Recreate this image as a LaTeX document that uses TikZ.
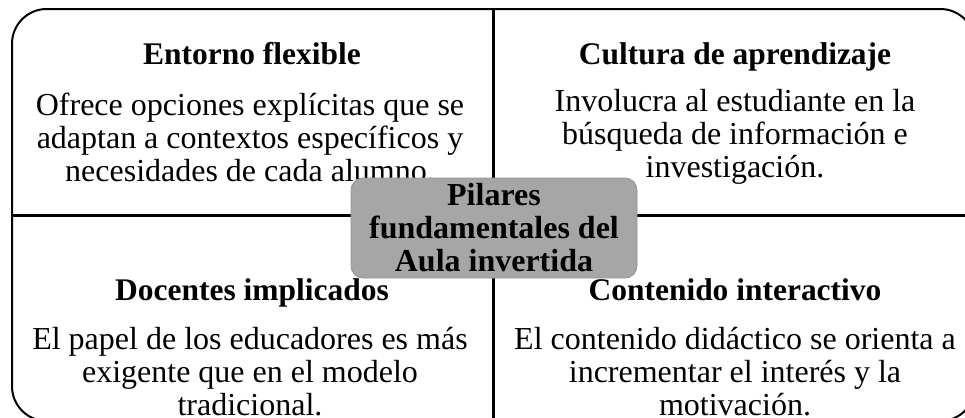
\documentclass[tikz,border=0pt]{standalone}
\usepackage{fontspec}
\setmainfont{Liberation Serif}
\begin{document}
\begin{tikzpicture}[x=0.75pt,y=-0.75pt,
  title/.style={font=\fontsize{23.6}{24.75}\selectfont\bfseries, inner sep=0pt, anchor=base},
  body/.style={font=\fontsize{24}{24.75}\selectfont, align=center, inner sep=0pt, anchor=center},
  divider/.style={line width=2.25pt, black},
  centerbox/.style={fill=boxgray, draw=boxgray!90!black, line width=0.6pt, rounded corners=9pt,
    minimum width=214.5pt, minimum height=75pt, inner sep=0pt, align=center,
    font=\fontsize{24}{24.75}\selectfont\bfseries}
]
\definecolor{boxgray}{HTML}{A6A6A6}
\useasboundingbox (0,0) rectangle (965,418);
\clip (0,0) rectangle (965,418);
% outer frame
\coordinate (tl) at (12,9);
\coordinate (br) at (975,421);
\draw[line width=1.5pt, rounded corners=26pt] (tl) rectangle (br);
\coordinate (hl) at (12,215);
\coordinate (hr) at (975,215);
\coordinate (vt) at (493,9);
\coordinate (vb) at (493,421);
\draw[divider] (hl) -- (hr);
\draw[divider] (vt) -- (vb);
% top-left
\node[title] (t1) at (252,64) {Entorno flexible};
\node[body] (b1) at (250,137) {Ofrece opciones explícitas que se\\adaptan a contextos específicos y\\necesidades de cada alumno.};
% top-right
\node[title] (t2) at (735,64) {Cultura de aprendizaje};
\node[body] (b2) at (735,137) {Involucra al estudiante en la\\búsqueda de información e\\investigación.};
% bottom-left
\node[title] (t3) at (252,300) {Docentes implicados};
\node[body] (b3) at (250,372) {El papel de los educadores es más\\exigente que en el modelo\\tradicional.};
% bottom-right
\node[title] (t4) at (735,300) {Contenido interactivo};
\node[body] (b4) at (735,372) {El contenido didáctico se orienta a\\incrementar el interés y la\\motivación.};
% center
\node[centerbox] (c) at (494,228) {Pilares\\fundamentales del\\Aula invertida};
\end{tikzpicture}
\end{document}
